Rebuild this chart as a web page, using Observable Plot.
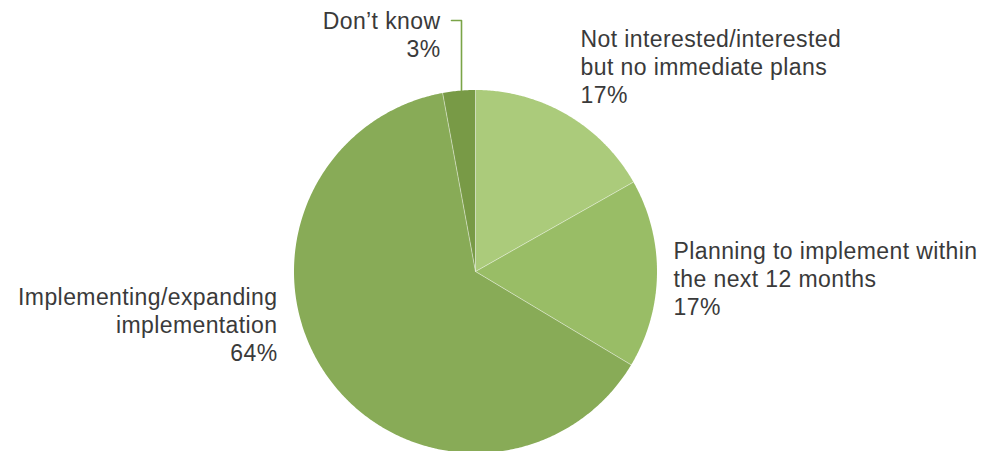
<!DOCTYPE html>
<html><head><meta charset="utf-8">
<script src="https://cdn.jsdelivr.net/npm/d3@7"></script>
<script src="https://cdn.jsdelivr.net/npm/@observablehq/plot@0.6"></script>
<style>html,body{margin:0;padding:0;background:#fff;overflow:hidden}</style>
</head><body><div id="chart"></div>
<script>
// ---- data ----
const categories = [
  "Not interested/interested\nbut no immediate plans",
  "Planning to implement within\nthe next 12 months",
  "Implementing/expanding\nimplementation",
  "Don’t know"
];
const values = [16.8, 16.8, 63.5, 2.9];
const valueLabels = ["17%", "17%", "64%", "3%"];

// ---- styles / layout ----
const sliceColors = ["#abcb7b", "#99bd66", "#88ab57", "#789a46"];
const W = 990, H = 451, CX = 475, CY = 271, R = 181.5;
const FONT = 23, LINE = 28;
// label anchor (pixels): x, baseline of last line, text anchor
const labelLayout = [
  {px: 580, py: 102, anchor: "start"},
  {px: 673, py: 314, anchor: "start"},
  {px: 277, py: 360, anchor: "end"},
  {px: 440, py: 56.5, anchor: "end"}
];
const leaderLayout = {px: 461, topY: 20, endX: 451};

const toX = px => (px - CX) / R;
const toY = py => (CY - py) / R;

const arcs = d3.pie().sort(null).value(d => d)(values);
const slicePts = [];
arcs.forEach((a, i) => {
  slicePts.push({x: 0, y: 0, slice: categories[i]});
  const n = Math.max(2, Math.ceil((a.endAngle - a.startAngle) / (Math.PI / 360)));
  for (let k = 0; k <= n; k++) {
    const t = a.startAngle + (a.endAngle - a.startAngle) * k / n;
    slicePts.push({x: Math.sin(t), y: Math.cos(t), slice: categories[i]});
  }
  slicePts.push({x: 0, y: 0, slice: categories[i]});
});
const seps = arcs.map(a => ({x2: Math.sin(a.startAngle), y2: Math.cos(a.startAngle)}));

const labels = categories.map((c, i) => ({
  x: toX(labelLayout[i].px), y: toY(labelLayout[i].py),
  text: c + "\n" + valueLabels[i], anchor: labelLayout[i].anchor
}));

const lx = toX(leaderLayout.px);
const leader = [
  {x: lx, y: Math.sqrt(1 - lx * lx)},
  {x: lx, y: toY(leaderLayout.topY)},
  {x: toX(leaderLayout.endX), y: toY(leaderLayout.topY)}
];

const chart = Plot.plot({
  width: W, height: H,
  margin: 0,
  x: {domain: [toX(0), toX(W)], axis: null},
  y: {domain: [toY(H), toY(0)], axis: null},
  color: {domain: categories, range: sliceColors},
  style: {fontFamily: "'Liberation Sans', Arial, sans-serif", background: "#fff", letterSpacing: "0.4px"},
  marks: [
    Plot.line(slicePts, {x: "x", y: "y", z: "slice", fill: "slice", stroke: "none"}),
    Plot.link(seps, {x1: 0, y1: 0, x2: "x2", y2: "y2", stroke: "#ffffff", strokeOpacity: 0.45, strokeWidth: 1}),
    Plot.line(leader, {x: "x", y: "y", stroke: "#7aa447", strokeWidth: 1.6}),
    ...["start", "end"].map(anc => Plot.text(labels.filter(d => d.anchor === anc), {
      x: "x", y: "y", text: "text", textAnchor: anc, lineAnchor: "bottom",
      lineHeight: LINE / FONT, fontSize: FONT, fill: "#3a3a3a"
    }))
  ]
});
document.getElementById("chart").append(chart);
</script>
</body></html>
